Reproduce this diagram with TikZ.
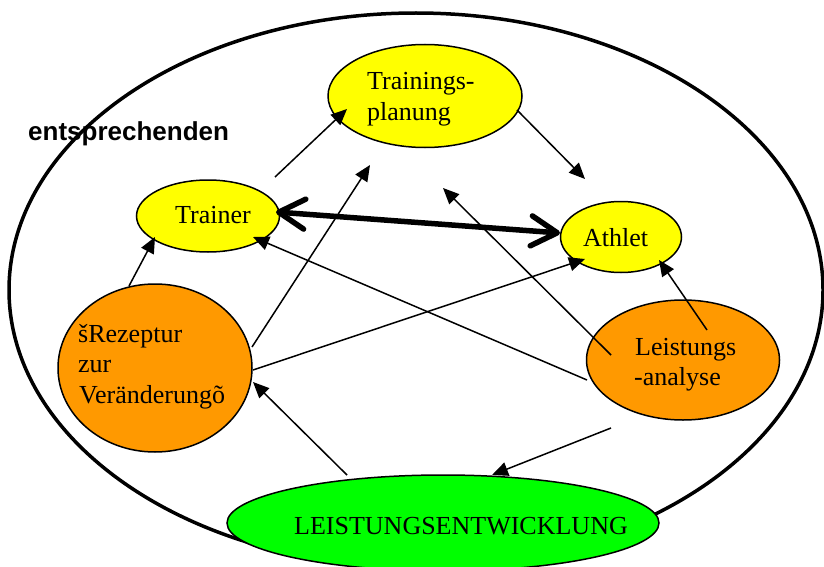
\documentclass[tikz,border=0pt]{standalone}
\usepackage{fontspec}
\setmainfont{Liberation Serif}
\newfontfamily\labelsans{Liberation Sans}
\usetikzlibrary{shapes.geometric,arrows.meta}
\definecolor{cyellow}{HTML}{FFFF00}
\definecolor{corange}{HTML}{FF9900}
\definecolor{cgreen}{HTML}{00FF00}
\tikzset{
  bubble/.style={ellipse, draw=black, line width=1.5pt, inner sep=0pt},
  txt/.style={anchor=base west, inner sep=0pt, font=\fontsize{26}{30}\selectfont},
  conn/.style={line width=1.5pt, -{Triangle[length=16pt,width=14pt]}},
  bold link/.style={line width=5.5pt, {Straight Barb[length=26pt,width=30pt,round]}-{Straight Barb[length=26pt,width=30pt,round]}}
}
\begin{document}
\begin{tikzpicture}[x=1pt,y=-1pt]
\useasboundingbox (0,0) rectangle (824,567);
% outer ellipse
\node[ellipse, draw=black, line width=3.5pt, minimum width=814pt, minimum height=554pt, inner sep=0pt] (outer) at (416,290) {};
% bubbles
\node[bubble, fill=cgreen, minimum width=432pt, minimum height=96pt] (le) at (443,523) {};
\node[bubble, fill=cyellow, minimum width=194pt, minimum height=103pt] (tp) at (425,96) {};
\node[bubble, fill=cyellow, minimum width=143pt, minimum height=72pt] (tr) at (208,216) {};
\node[bubble, fill=cyellow, minimum width=121pt, minimum height=71pt] (at) at (621,237) {};
\node[bubble, fill=corange, minimum width=194pt, minimum height=168pt] (rz) at (155,368) {};
\node[bubble, fill=corange, minimum width=193pt, minimum height=120pt] (la) at (683,360) {};
% texts
\node[anchor=base west, inner sep=0pt, font=\labelsans\bfseries\fontsize{26}{30}\selectfont] (ent) at (28,140.5) {entsprechenden};
\node[txt] (tp1) at (367,90) {Trainings-};
\node[txt] (tp2) at (367,121) {planung};
\node[txt] (tr1) at (175,223) {Trainer};
\node[txt] (at1) at (583,246) {Athlet};
\node[txt] (la1) at (635,355) {Leistungs};
\node[txt] (la2) at (634,385) {-analyse};
\node[txt] (rz1) at (78,342) {šRezeptur};
\node[txt] (rz2) at (78,372) {zur};
\node[txt] (rz3) at (79,403) {Veränderungõ};
\node[txt] (le1) at (294,534) {LEISTUNGSENTWICKLUNG};
% connector end points
\coordinate (a1s) at (275,177); \coordinate (a1e) at (347,109);
\coordinate (a2s) at (517,110); \coordinate (a2e) at (585,179);
\coordinate (a3s) at (276,212); \coordinate (a3e) at (560,233);
\coordinate (a4s) at (129,286); \coordinate (a4e) at (155,237);
\coordinate (a5s) at (252,347); \coordinate (a5e) at (370,165);
\coordinate (a6s) at (253,370); \coordinate (a6e) at (585,259);
\coordinate (a7s) at (611,355); \coordinate (a7e) at (443,188);
\coordinate (a8s) at (587,380); \coordinate (a8e) at (253,237);
\coordinate (a9s) at (707,330); \coordinate (a9e) at (659,260);
\coordinate (a10s) at (611,428); \coordinate (a10e) at (492,475);
\coordinate (a11s) at (347,475); \coordinate (a11e) at (253,382);
% connectors
\draw[conn] (a1s) -- (a1e);
\draw[conn] (a2s) -- (a2e);
\draw[bold link] (a3s) -- (a3e);
\draw[conn] (a4s) -- (a4e);
\draw[conn] (a5s) -- (a5e);
\draw[conn] (a6s) -- (a6e);
\draw[conn] (a7s) -- (a7e);
\draw[conn] (a8s) -- (a8e);
\draw[conn] (a9s) -- (a9e);
\draw[conn] (a10s) -- (a10e);
\draw[conn] (a11s) -- (a11e);
\end{tikzpicture}
\end{document}
